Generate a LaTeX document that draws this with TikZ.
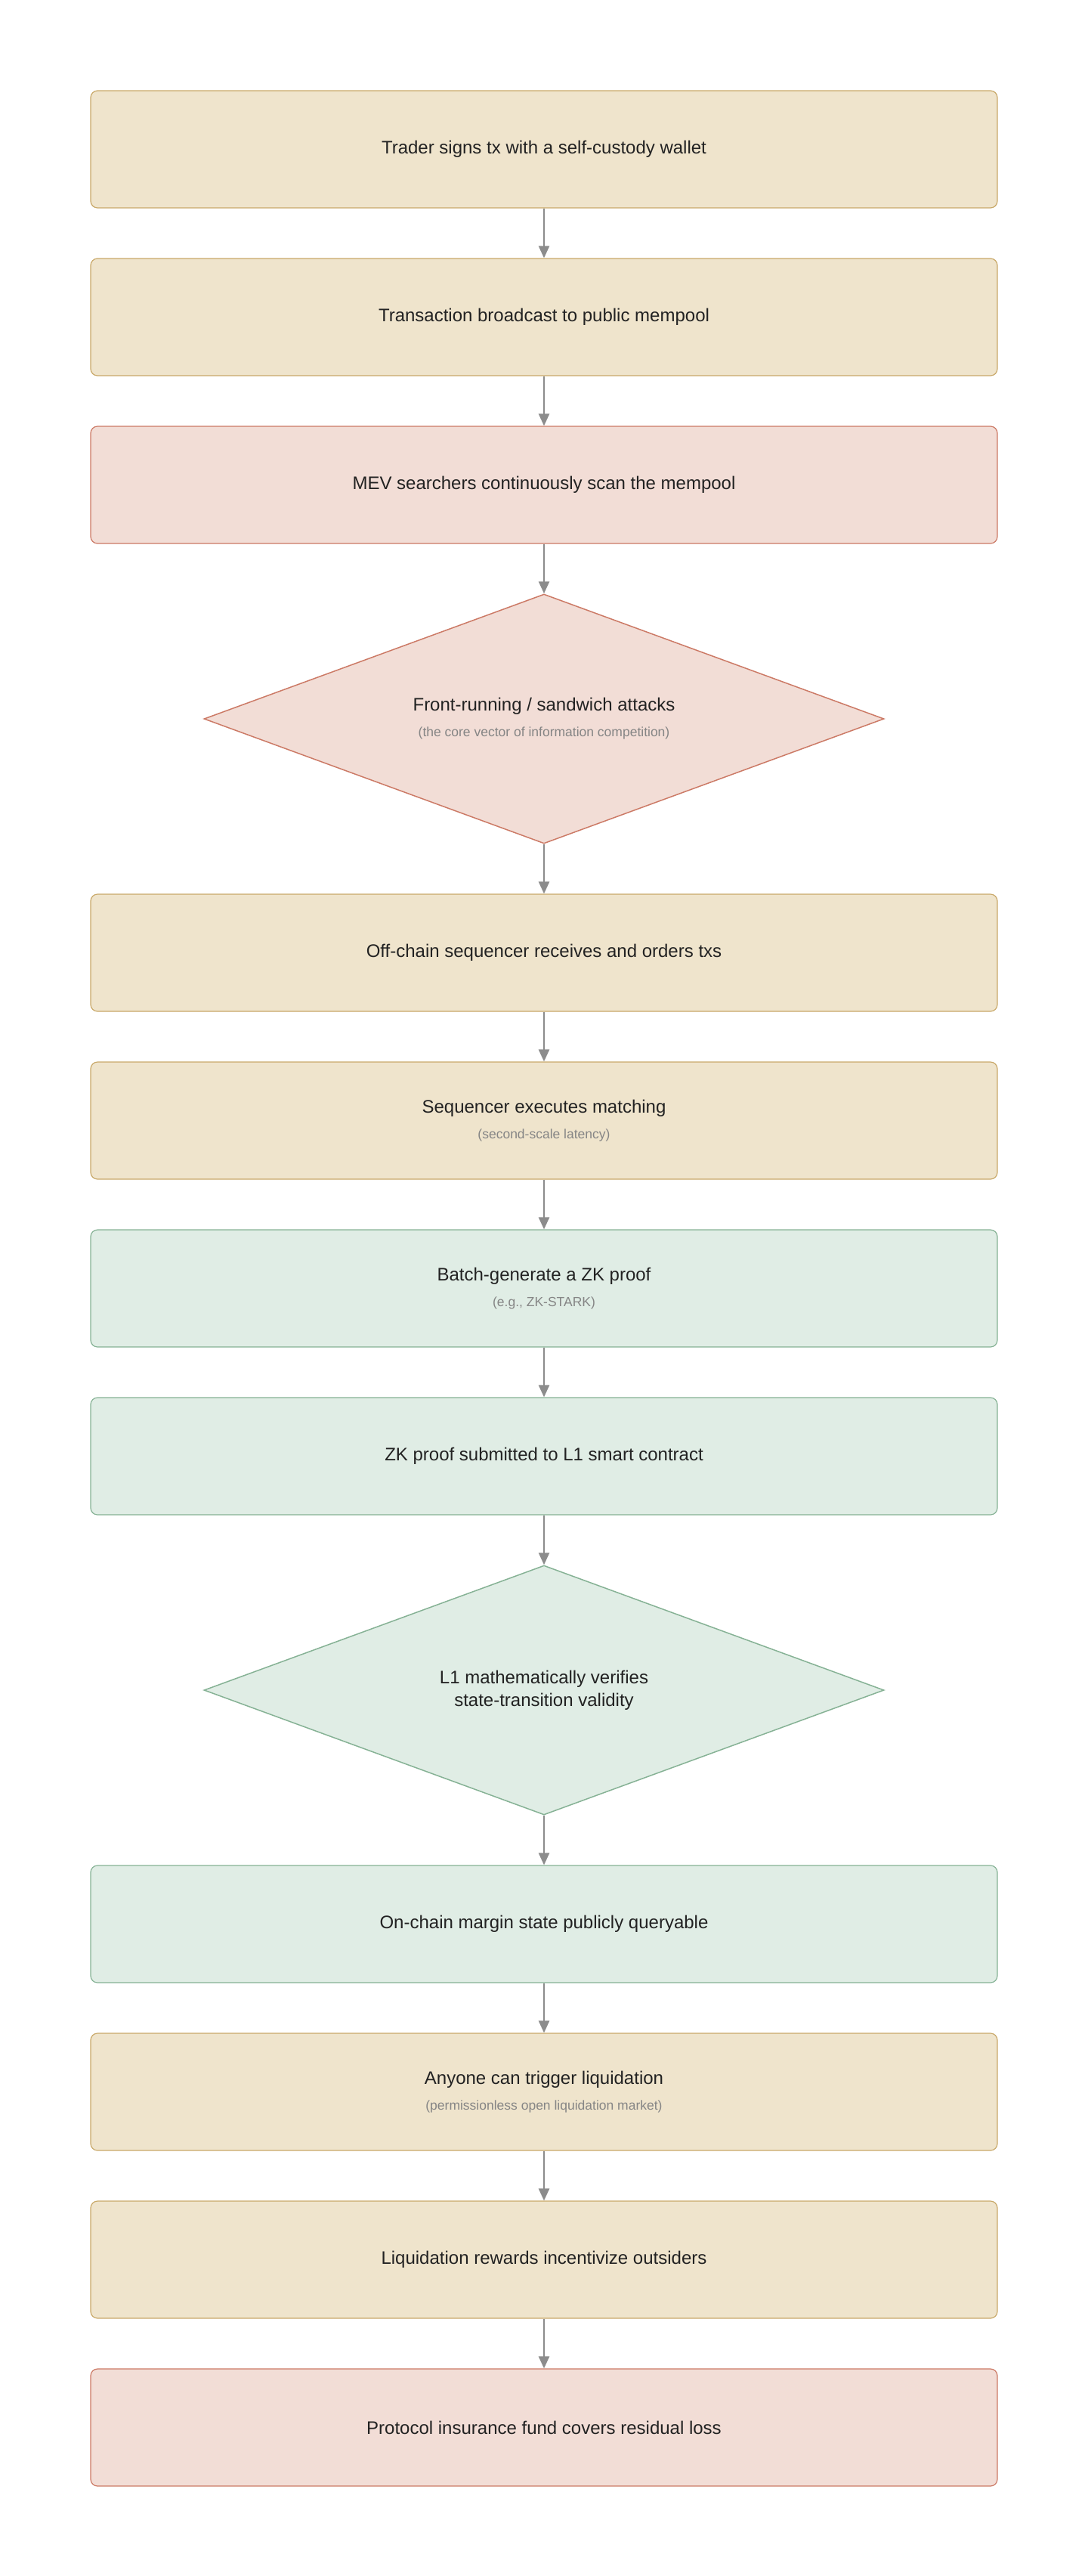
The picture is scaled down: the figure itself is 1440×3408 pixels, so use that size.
\documentclass[tikz,border=0pt]{standalone}
\usepackage{fontspec}
\setmainfont{Liberation Sans}
\usetikzlibrary{shapes.geometric,arrows.meta}
\definecolor{tanF}{HTML}{EFE4CC}\definecolor{tanD}{HTML}{C9A96A}
\definecolor{redF}{HTML}{F2DDD6}\definecolor{redD}{HTML}{CC7A66}
\definecolor{grnF}{HTML}{E0EDE5}\definecolor{grnD}{HTML}{86B295}
\definecolor{arr}{HTML}{8C8C8C}\definecolor{sub}{HTML}{858585}\definecolor{txt}{HTML}{222222}
\tikzset{
 box/.style={draw, line width=1.2pt, rounded corners=9pt, minimum width=1200pt, minimum height=155pt, inner sep=0pt, text=txt, font=\fontsize{24}{30}\selectfont, align=center},
 dia/.style={draw, line width=1.5pt, diamond, aspect=2.727, minimum width=900pt, minimum height=330pt, inner sep=0pt, text=txt, font=\fontsize{24}{30}\selectfont, align=center},
 tan/.style={fill=tanF, draw=tanD}, red/.style={fill=redF, draw=redD}, grn/.style={fill=grnF, draw=grnD},
 ar/.style={draw=arr, line width=2.5pt, -{Triangle[length=16pt,width=14pt]}}
}
\newcommand{\subt}[1]{\\[4pt]{\color{sub}\fontsize{17.5}{22}\selectfont #1}}
\begin{document}
\begin{tikzpicture}[x=1pt,y=-1pt]
\useasboundingbox (0,0) rectangle (1440,3408);
\node[box,tan] (b1) at (720,197.5) {Trader signs tx with a self-custody wallet};
\node[box,tan] (b2) at (720,419.5) {Transaction broadcast to public mempool};
\node[box,red] (b3) at (720,641.5) {MEV searchers continuously scan the mempool};
\node[dia,red] (d1) at (720,951) {Front-running / sandwich attacks\subt{(the core vector of information competition)}};
\node[box,tan] (b5) at (720,1260.5) {Off-chain sequencer receives and orders txs};
\node[box,tan] (b6) at (720,1482.5) {Sequencer executes matching\subt{(second-scale latency)}};
\node[box,grn] (b7) at (720,1704.5) {Batch-generate a ZK proof\subt{(e.g., ZK-STARK)}};
\node[box,grn] (b8) at (720,1926.5) {ZK proof submitted to L1 smart contract};
\node[dia,grn] (d2) at (720,2236) {L1 mathematically verifies\\state-transition validity};
\node[box,grn] (b10) at (720,2545.5) {On-chain margin state publicly queryable};
\node[box,tan] (b11) at (720,2767.5) {Anyone can trigger liquidation\subt{(permissionless open liquidation market)}};
\node[box,tan] (b12) at (720,2989.5) {Liquidation rewards incentivize outsiders};
\node[box,red] (b13) at (720,3211.5) {Protocol insurance fund covers residual loss};
\foreach \a/\b in {b1/b2,b2/b3,b3/d1,d1/b5,b5/b6,b6/b7,b7/b8,b8/d2,d2/b10,b10/b11,b11/b12,b12/b13}
 \draw[ar] (\a) -- (\b);
\end{tikzpicture}
\end{document}
